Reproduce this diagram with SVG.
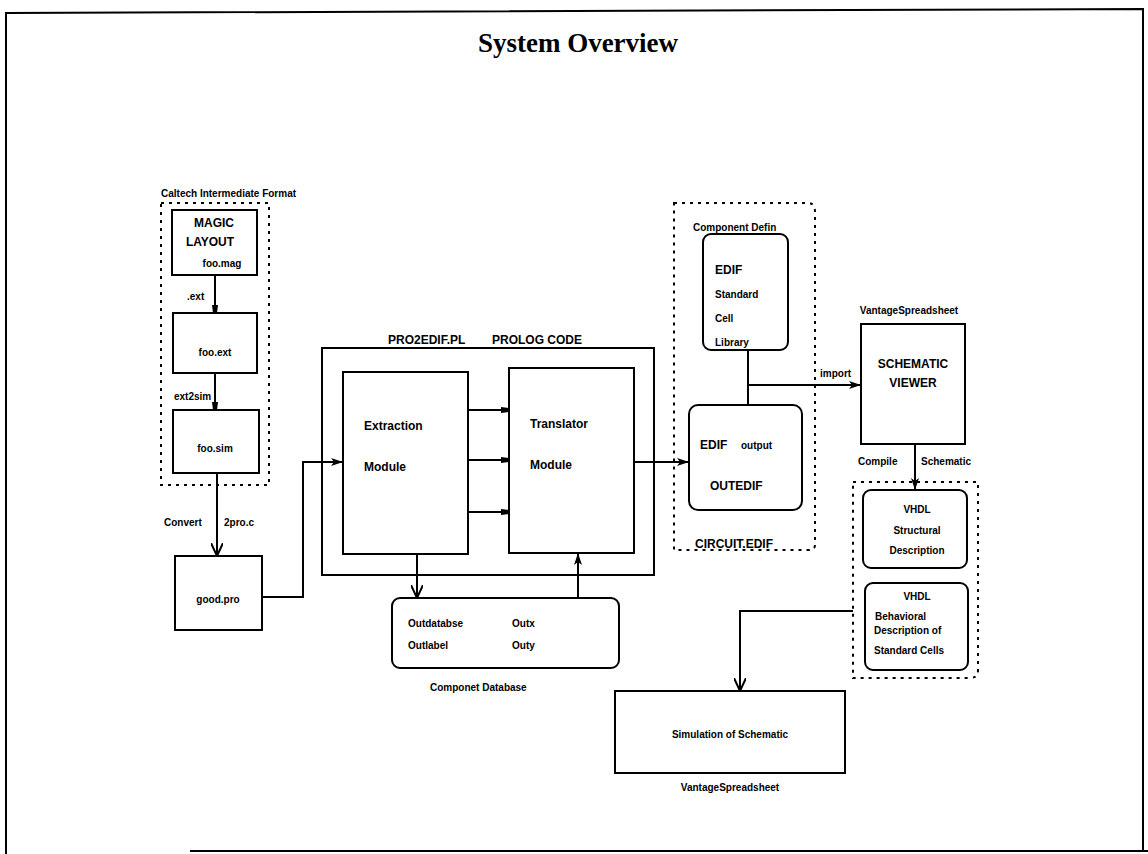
<svg xmlns="http://www.w3.org/2000/svg" width="1148" height="854" viewBox="0 0 1148 854">
  <defs>
    <style>
      .box { fill: none; stroke: #000; stroke-width: 2; }
      .dash { fill: none; stroke: #000; stroke-width: 2; stroke-dasharray: 3 5; }
      .wire { fill: none; stroke: #000; stroke-width: 2; }
      .t { font-family: "Liberation Sans", Arial, sans-serif; font-weight: bold; fill: #000; }
      .s { font-size: 10px; }
      .m { font-size: 12px; }
      .l { font-size: 14px; }
      .c { text-anchor: middle; }
    </style>
    <marker id="arr" viewBox="0 0 12 8" refX="12" refY="4" markerWidth="12" markerHeight="8" markerUnits="userSpaceOnUse" orient="auto">
      <path d="M0,0 L12,4 L0,8 L3,4 Z" fill="#000"/>
    </marker>
    <marker id="open" viewBox="0 0 14 12" refX="13" refY="6" markerWidth="14" markerHeight="12" markerUnits="userSpaceOnUse" orient="auto">
      <path d="M0,0 L13,6 L0,12" fill="none" stroke="#000" stroke-width="2"/>
    </marker>
    <marker id="dot" viewBox="0 0 8 6" refX="8" refY="3" markerWidth="8" markerHeight="6" markerUnits="userSpaceOnUse" orient="auto">
      <path d="M0,0 L8,1 L8,5 L0,6 Z" fill="#000"/>
    </marker>
  </defs>

  <rect width="1148" height="854" fill="#fff"/>

  <!-- page frame -->
  <path d="M6,854 L6,13 L1143,9 L1143,851 M190,851 L1148,851" fill="none" stroke="#000" stroke-width="2"/>
  <text x="578" y="52" text-anchor="middle" font-family="Liberation Serif, Times New Roman, serif" font-weight="bold" font-size="27">System Overview</text>

  <!-- Caltech Intermediate Format group -->
  <g id="cif">
    <rect class="dash" x="161" y="203" width="108" height="282"/>
    <text class="t s" x="161" y="197">Caltech Intermediate Format</text>
  </g>
  <g id="magic">
    <rect class="box" x="172" y="210" width="85" height="65"/>
    <text class="t m c" x="214" y="227">MAGIC</text>
    <text class="t m c" x="210" y="246">LAYOUT</text>
    <text class="t s c" x="222" y="267">foo.mag</text>
  </g>
  <g id="fooext">
    <rect class="box" x="173" y="313" width="84" height="60"/>
    <text class="t s c" x="215" y="356">foo.ext</text>
  </g>
  <g id="foosim">
    <rect class="box" x="173" y="410" width="86" height="63"/>
    <text class="t s c" x="215" y="452">foo.sim</text>
  </g>
  <g id="goodpro">
    <rect class="box" x="175" y="556" width="87" height="74"/>
    <text class="t s c" x="218" y="603">good.pro</text>
  </g>

  <!-- PROLOG code block -->
  <g id="pro2edif">
    <rect class="box" x="322" y="348" width="332" height="227"/>
    <text class="t m" x="388" y="344">PRO2EDIF.PL</text>
    <text class="t m" x="492" y="344">PROLOG CODE</text>
  </g>
  <g id="extraction">
    <rect class="box" x="343" y="372" width="125" height="182"/>
    <text class="t m" x="364" y="430">Extraction</text>
    <text class="t m" x="364" y="471">Module</text>
  </g>
  <g id="translator">
    <rect class="box" x="509" y="368" width="125" height="185"/>
    <text class="t m" x="530" y="428">Translator</text>
    <text class="t m" x="530" y="469">Module</text>
  </g>
  <g id="database">
    <rect class="box" x="392" y="598" width="227" height="70" rx="8"/>
    <text class="t s" x="408" y="627">Outdatabse</text>
    <text class="t s" x="512" y="627">Outx</text>
    <text class="t s" x="408" y="649">Outlabel</text>
    <text class="t s" x="512" y="649">Outy</text>
    <text class="t s" x="430" y="691">Componet  Database</text>
  </g>

  <!-- CIRCUIT.EDIF group -->
  <g id="circuit">
    <path class="dash" d="M674,203 L808,203 Q815,203 815,212 L815,545 Q815,550 808,550 L674,550 Z"/>
    <text class="t m" x="695" y="548">CIRCUIT.EDIF</text>
    <text class="t s" x="693" y="231">Component Defin</text>
  </g>
  <g id="library">
    <rect class="box" x="703" y="234" width="85" height="116" rx="8"/>
    <text class="t m" x="715" y="274">EDIF</text>
    <text class="t s" x="715" y="298">Standard</text>
    <text class="t s" x="715" y="322">Cell</text>
    <text class="t s" x="715" y="346">Library</text>
  </g>
  <g id="edifout">
    <rect class="box" x="689" y="405" width="113" height="105" rx="9"/>
    <text class="t m" x="700" y="449">EDIF</text>
    <text class="t s" x="741" y="449">output</text>
    <text class="t m" x="710" y="490">OUTEDIF</text>
  </g>

  <!-- viewer and VHDL -->
  <g id="viewer">
    <rect class="box" x="861" y="324" width="104" height="120"/>
    <text class="t s c" x="909" y="314">VantageSpreadsheet</text>
    <text class="t m c" x="913" y="368">SCHEMATIC</text>
    <text class="t m c" x="913" y="387">VIEWER</text>
  </g>
  <g id="vhdl">
    <path class="dash" d="M853,482 L978,482 L978,670 Q978,678 970,678 L853,678 Z"/>
  </g>
  <g id="vhdl-struct">
    <rect class="box" x="863" y="490" width="104" height="78" rx="8"/>
    <text class="t s c" x="917" y="513">VHDL</text>
    <text class="t s c" x="917" y="534">Structural</text>
    <text class="t s c" x="917" y="554">Description</text>
  </g>
  <g id="vhdl-behav">
    <rect class="box" x="865" y="583" width="103" height="87" rx="8"/>
    <text class="t s c" x="917" y="600">VHDL</text>
    <text class="t s" x="875" y="620">Behavioral</text>
    <text class="t s" x="874" y="634">Description  of</text>
    <text class="t s" x="874" y="654">Standard Cells</text>
  </g>
  <g id="simulation">
    <rect class="box" x="615" y="691" width="230" height="82"/>
    <text class="t s c" x="730" y="738">Simulation of Schematic</text>
    <text class="t s c" x="730" y="791">VantageSpreadsheet</text>
  </g>

  <!-- connectors -->
  <g id="connectors">
    <line class="wire" x1="215" y1="275" x2="215" y2="313" marker-end="url(#dot)"/>
    <text class="t s" x="187" y="300">.ext</text>
    <line class="wire" x1="215" y1="373" x2="215" y2="410" marker-end="url(#dot)"/>
    <text class="t s" x="174" y="400">ext2sim</text>
    <line class="wire" x1="217" y1="473" x2="217" y2="556" marker-end="url(#open)"/>
    <text class="t s" x="164" y="526">Convert</text>
    <text class="t s" x="224" y="526">2pro.c</text>
    <polyline class="wire" points="262,597 303,597 303,462 343,462" marker-end="url(#arr)"/>
    <line class="wire" x1="468" y1="410" x2="509" y2="410" marker-end="url(#dot)"/>
    <line class="wire" x1="468" y1="460" x2="509" y2="460" marker-end="url(#dot)"/>
    <line class="wire" x1="468" y1="512" x2="509" y2="512" marker-end="url(#dot)"/>
    <line class="wire" x1="417" y1="554" x2="417" y2="598" marker-end="url(#open)"/>
    <line class="wire" x1="578" y1="598" x2="578" y2="553" marker-end="url(#arr)"/>
    <line class="wire" x1="634" y1="462" x2="689" y2="462" marker-end="url(#arr)"/>
    <line class="wire" x1="748" y1="350" x2="748" y2="405"/>
    <line class="wire" x1="748" y1="385" x2="861" y2="385" marker-end="url(#arr)"/>
    <text class="t s" x="820" y="377">import</text>
    <line class="wire" x1="915" y1="444" x2="915" y2="490" marker-end="url(#arr)"/>
    <text class="t s" x="858" y="465">Compile</text>
    <text class="t s" x="921" y="465">Schematic</text>
    <polyline class="wire" points="853,611 740,611 740,691" marker-end="url(#open)"/>
  </g>
</svg>
